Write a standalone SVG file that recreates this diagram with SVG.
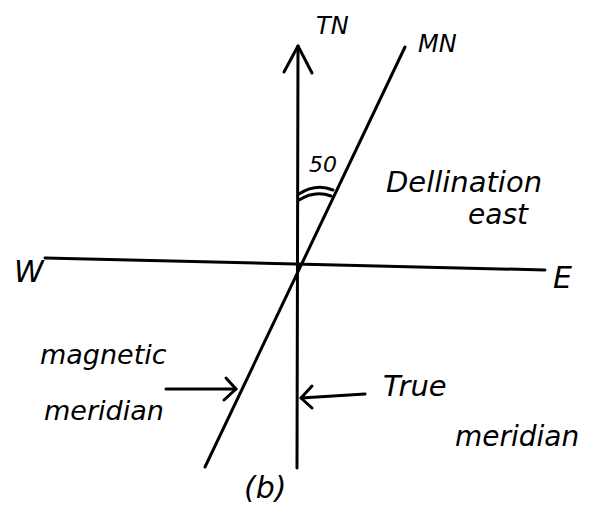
<svg xmlns="http://www.w3.org/2000/svg" width="602" height="506" viewBox="0 0 602 506">
<style>
.ln{stroke:#000;stroke-width:3;fill:none;stroke-linecap:round;stroke-linejoin:round}
.t{font-family:"DejaVu Sans",sans-serif;font-style:italic;fill:#000}
</style>
<rect width="602" height="506" fill="#fff"/>
<g id="connectors">
<path class="ln" d="M297 468 L298 46"/>
<path class="ln" d="M284 72 L298 46 L312 73"/>
<path class="ln" d="M205 467 L405 47"/>
<path class="ln" d="M45 258 L545 270"/>
<path class="ln" d="M166 389 L236 389"/>
<path class="ln" d="M226 378 L236 389 L224 400"/>
<path class="ln" d="M365 394 L301 398"/>
<path class="ln" d="M312 386 L301 398 L312 408"/>
<path class="ln" d="M299 194 Q316 183 333 190"/>
<path class="ln" d="M299 200 Q315 190 331 196"/>
</g>
<g id="TN"><text class="t" x="316" y="34" font-size="24">TN</text></g>
<g id="MN"><text class="t" x="418" y="52" font-size="24">MN</text></g>
<g id="angle"><text class="t" x="309" y="172" font-size="22">50</text></g>
<g id="declination"><text class="t" x="386" y="192" font-size="29">Dellination</text><text class="t" x="468" y="224" font-size="28">east</text></g>
<g id="W"><text class="t" x="14" y="282" font-size="30">W</text></g>
<g id="E"><text class="t" x="553" y="288" font-size="30">E</text></g>
<g id="magnetic"><text class="t" x="40" y="364" font-size="27">magnetic</text><text class="t" x="44" y="420" font-size="27">meridian</text></g>
<g id="true"><text class="t" x="383" y="396" font-size="29">True</text><text class="t" x="455" y="446" font-size="28">meridian</text></g>
<g id="label"><text class="t" x="244" y="498" font-size="30">(b)</text></g>
</svg>
